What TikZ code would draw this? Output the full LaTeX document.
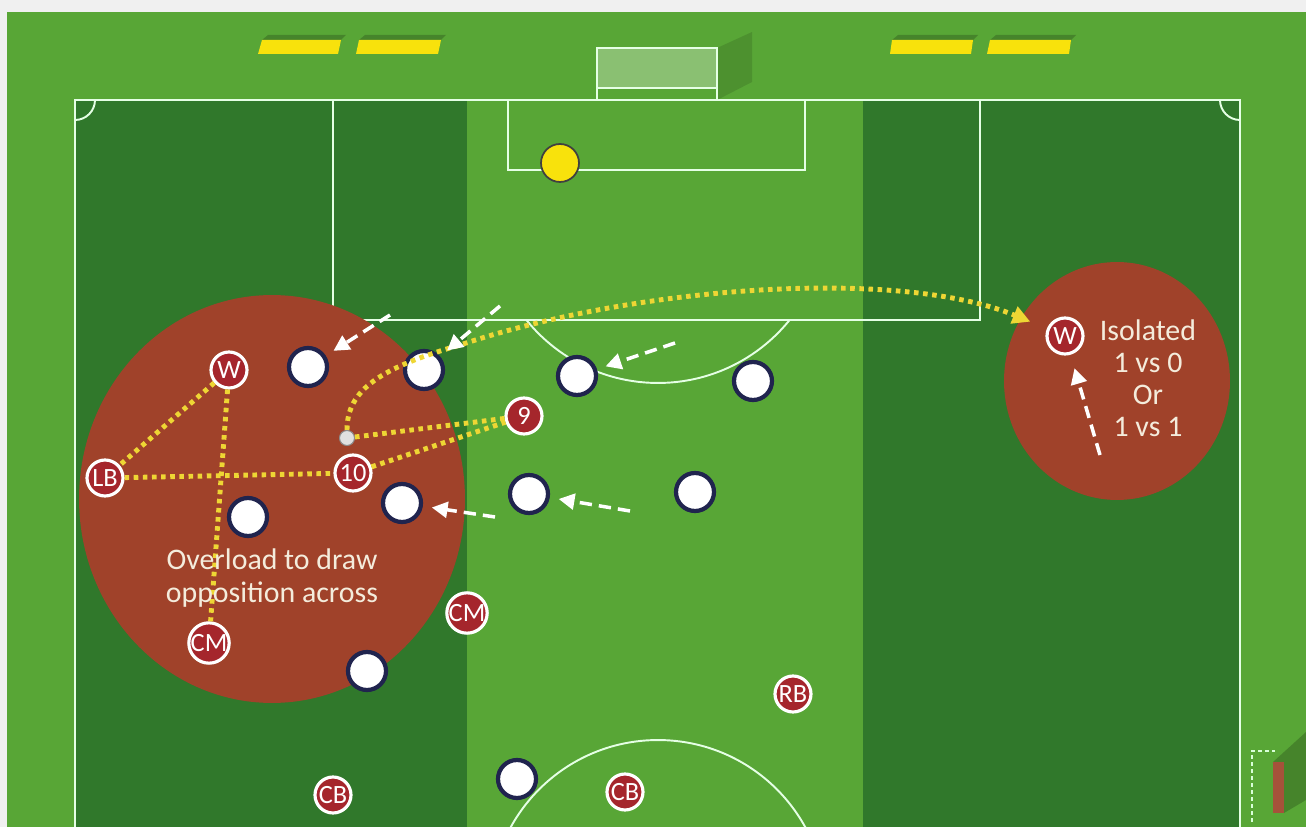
\documentclass[tikz,border=0pt]{standalone}
\usepackage{fontspec}
\setmainfont{Carlito}
\usetikzlibrary{arrows.meta}

\definecolor{grasslight}{RGB}{88,166,54}
\definecolor{grassdark}{RGB}{48,120,43}
\definecolor{zonered}{RGB}{160,66,42}
\definecolor{playerred}{RGB}{165,38,44}
\definecolor{navyring}{RGB}{32,36,78}
\definecolor{passyellow}{RGB}{238,214,52}
\definecolor{boardyellow}{RGB}{248,226,12}
\definecolor{textcream}{RGB}{244,236,220}
\definecolor{barbrown}{RGB}{165,82,58}

\tikzstyle{redplayer} = [
    circle,
    minimum size=0.72cm,
    inner sep=0pt,
    fill=playerred,
    draw=white,
    line width=1.8pt,
    text=white,
    font=\fontsize{15}{15}\selectfont
]
\tikzstyle{whiteplayer} = [
    circle,
    minimum size=0.76cm,
    inner sep=0pt,
    fill=white,
    draw=navyring,
    line width=2.4pt
]
\tikzstyle{keeper} = [
    circle,
    minimum size=0.76cm,
    inner sep=0pt,
    fill=boardyellow,
    draw=black!75,
    line width=1pt
]
\tikzstyle{passline} = [passyellow, line width=2.8pt, dash pattern=on 2.6pt off 2.6pt]
\tikzstyle{runarrow} = [white, line width=2pt, dash pattern=on 7pt off 4pt,
    -{Triangle[width=9pt,length=9pt]}, shorten >=0.18cm]
\tikzstyle{pitchline} = [white!90!green, line width=1.1pt]
\tikzstyle{board} = [fill=boardyellow]
\tikzstyle{zonetext} = [text=textcream, align=center]

\begin{document}
\begin{tikzpicture}[x=0.02cm, y=-0.02cm]
\useasboundingbox (0,0) rectangle (1306,827);

% Grass
\fill[black!6] (0,0) rectangle (1306,827);
\fill[grasslight] (7,12) rectangle (1306,827);
\fill[grassdark] (75,100) rectangle (467,827);
\fill[grassdark] (863,100) rectangle (1240,827);

% Markings
\draw[pitchline] (75,827) -- (75,100) -- (1240,100) -- (1240,827);
\draw[pitchline] (333,100) -- (333,320) -- (980,320) -- (980,100);
\draw[pitchline] (508,100) -- (508,170) -- (805,170) -- (805,100);
\begin{scope}
    \clip (333,320) rectangle (980,420);
    \draw[pitchline] (658,214) circle[radius=3.38cm];
\end{scope}
\begin{scope}
    \clip (0,0) rectangle (1306,827);
    \draw[pitchline] (658,908) circle[radius=3.36cm];
\end{scope}
\begin{scope}
    \clip (75,100) rectangle (100,125);
    \draw[pitchline] (75,100) circle[radius=0.4cm];
\end{scope}
\begin{scope}
    \clip (1215,100) rectangle (1240,125);
    \draw[pitchline] (1240,100) circle[radius=0.4cm];
\end{scope}

% Goal and boards
\fill[black, opacity=0.12] (717,48) -- (752,32) -- (752,82) -- (717,100) -- cycle;
\fill[white, opacity=0.3] (597,48) rectangle (717,88);
\draw[pitchline] (597,100) -- (597,48) -- (717,48) -- (717,100);
\draw[pitchline] (597,88) -- (717,88);
\fill[black, opacity=0.2] (262,40) -- (268,35) -- (346,35) -- (341,40) -- cycle;
\fill[black, opacity=0.2] (359,40) -- (365,35) -- (446,35) -- (441,40) -- cycle;
\fill[black, opacity=0.2] (892,40) -- (898,35) -- (978,35) -- (973,40) -- cycle;
\fill[black, opacity=0.2] (990,40) -- (996,35) -- (1076,35) -- (1071,40) -- cycle;
\fill[board] (258,54) -- (262,40) -- (341,40) -- (338,54) -- cycle;
\fill[board] (356,54) -- (359,40) -- (441,40) -- (438,54) -- cycle;
\fill[board] (890,54) -- (892,40) -- (973,40) -- (971,54) -- cycle;
\fill[board] (987,54) -- (990,40) -- (1071,40) -- (1069,54) -- cycle;

% Small goal bottom right
\fill[black, opacity=0.2] (1273,762) -- (1306,732) -- (1306,800) -- (1284,813) -- cycle;
\draw[white!85!green, line width=0.9pt, dash pattern=on 2pt off 2pt] (1252,822) -- (1252,751) -- (1275,751);
\fill[barbrown] (1273,762) rectangle (1284,813);

% Zones
\fill[zonered] (272,499) ellipse [x radius=3.86cm, y radius=4.08cm];
\fill[zonered] (1117,381) ellipse [x radius=2.26cm, y radius=2.38cm];

% Players
\node (keeper) [keeper] at (560,163) {};

\node (wl)   [redplayer] at (229,370) {W};
\node (lb)   [redplayer] at (105,478) {LB};
\node (ten)  [redplayer] at (353,473) {10};
\node (nine) [redplayer] at (524,416) {9};
\node (cml)  [redplayer] at (209,643) {CM};
\node (cmr)  [redplayer] at (467,613) {CM};
\node (rb)   [redplayer] at (793,694) {RB};
\node (cbl)  [redplayer] at (333,795) {CB};
\node (cbr)  [redplayer] at (625,792) {CB};
\node (wr)   [redplayer] at (1065,336) {W};

\node (o1)  [whiteplayer] at (308,367) {};
\node (o2)  [whiteplayer] at (424,370) {};
\node (o3)  [whiteplayer] at (577,376) {};
\node (o4)  [whiteplayer] at (753,381) {};
\node (o5)  [whiteplayer] at (248,517) {};
\node (o6)  [whiteplayer] at (402,503) {};
\node (o7)  [whiteplayer] at (529,494) {};
\node (o8)  [whiteplayer] at (695,492) {};
\node (o9)  [whiteplayer] at (367,671) {};
\node (o10) [whiteplayer] at (517,779) {};

\node (ball) [circle, minimum size=0.3cm, inner sep=0pt, fill=black!12, draw=black!45, line width=0.6pt] at (347,438) {};

% Passes
\draw[passline] (wl) -- (lb);
\draw[passline] (wl) -- (cml);
\draw[passline] (lb) -- (ten);
\draw[passline] (ball) -- (nine);
\draw[passline] (ten) -- (nine);
\draw[passline, -{Triangle[width=10pt,length=10pt]}, shorten >=0.36cm]
    (ball) .. controls (347,390) and (380,368) .. (460,345)
    .. controls (640,285) and (900,268) .. (wr);

% Runs
\coordinate (r1) at (390,315);
\coordinate (r2) at (500,306);
\coordinate (r3) at (675,343);
\coordinate (r4) at (495,517);
\coordinate (r5) at (630,511);
\coordinate (r6) at (1100,455);
\draw[runarrow] (r1) -- (o1);
\draw[runarrow] (r2) -- (o2);
\draw[runarrow] (r3) -- (o3);
\draw[runarrow] (r4) -- (o6);
\draw[runarrow] (r5) -- (o7);
\draw[runarrow, shorten >=0.28cm] (r6) -- (wr);

% Text
\node (overload) [zonetext, font=\fontsize{17}{18.7}\selectfont] at (272,578)
{Overload to draw\\
opposition across};
\node (isolated) [zonetext, font=\fontsize{17}{18.2}\selectfont] at (1148,378)
{Isolated\\
1 vs 0\\
Or\\
1 vs 1};

\end{tikzpicture}
\end{document}
